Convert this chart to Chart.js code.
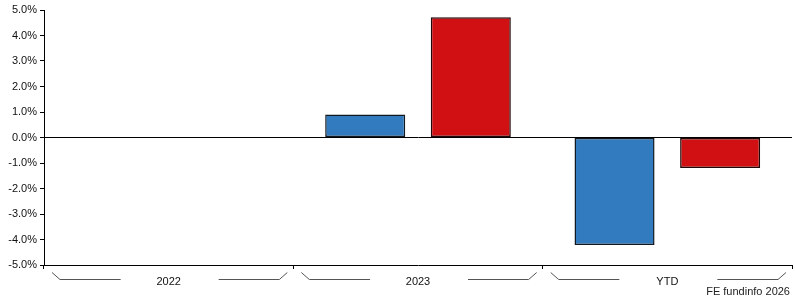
<!DOCTYPE html>
<html>
<head>
<meta charset="utf-8">
<script src="https://cdn.jsdelivr.net/npm/chart.js@4/dist/chart.umd.min.js"></script>
<style>
  html, body { margin: 0; padding: 0; background: #fff; }
  #wrap { position: relative; width: 795px; height: 300px; }
  #credit { position: absolute; right: 5px; bottom: 3px; font: 11px 'Liberation Sans', Arial, sans-serif; color: #222; }
</style>
</head>
<body>
<div id="wrap">
  <canvas id="perfChart" width="795" height="300"></canvas>
  <div id="credit">FE fundinfo 2026</div>
</div>
<script>
// Dữ liệu
const periods = ['2022', '2023', 'YTD'];
const fundValues = [null, 0.9, -4.22];
const sectorValues = [null, 4.72, -1.2];
const yTicks = [-5, -4, -3, -2, -1, 0, 1, 2, 3, 4, 5];

// Vẽ các ngoặc trang trí quanh nhãn trục x
const bracketPlugin = {
    id: 'brackets',
    afterDraw(chart) {
        const x = chart.scales.x;
        const ctx = chart.ctx;
        const w = (x.right - x.left) / periods.length;
        const y0 = x.top + 7, y1 = x.top + 14;
        ctx.save();
        ctx.strokeStyle = '#555';
        ctx.lineWidth = 1;
        periods.forEach((p, i) => {
            const l = x.left + i * w, r = l + w, c = l + w / 2;
            ctx.beginPath();
            ctx.moveTo(l + 8, y0 + 0.5);
            ctx.lineTo(l + 16, y1 + 0.5);
            ctx.lineTo(c - 48, y1 + 0.5);
            ctx.moveTo(c + 50, y1 + 0.5);
            ctx.lineTo(r - 14, y1 + 0.5);
            ctx.lineTo(r - 6, y0 + 0.5);
            ctx.stroke();
        });
        ctx.restore();
    }
};

const tickFont = { family: "'Liberation Sans', Arial, sans-serif", size: 11 };

new Chart(document.getElementById('perfChart').getContext('2d'), {
    type: 'bar',
    data: {
        labels: periods,
        datasets: [
            { label: 'Fund', data: fundValues, backgroundColor: '#337BBF', borderColor: '#101820', borderWidth: 1.5, borderSkipped: false },
            { label: 'Sector', data: sectorValues, backgroundColor: '#D01012', borderColor: '#200808', borderWidth: 1.5, borderSkipped: false }
        ]
    },
    options: {
        responsive: false,
        animation: false,
        categoryPercentage: 0.847,
        barPercentage: 0.758,
        layout: { padding: { top: 10, right: 3 } },
        plugins: { legend: { display: false }, tooltip: { enabled: false } },
        scales: {
            x: {
                offset: true,
                grid: { offset: true, drawOnChartArea: false, tickLength: 4, color: '#000', tickColor: '#000' },
                border: { color: '#000', width: 1 },
                ticks: { color: '#111', font: tickFont, padding: 6, maxRotation: 0 },
                afterFit: s => { s.height = 35; }
            },
            y: {
                min: -5, max: 5,
                afterBuildTicks: s => { s.ticks = yTicks.map(v => ({ value: v })); },
                grid: {
                    color: c => (c.tick && c.tick.value === 0) ? '#000' : 'rgba(0,0,0,0)',
                    tickColor: '#000', tickLength: 4, lineWidth: 1
                },
                border: { color: '#000', width: 1 },
                ticks: { color: '#111', font: tickFont, padding: 3, callback: v => v.toFixed(1) + '%' },
                afterFit: s => { s.width = 44; }
            }
        }
    },
    plugins: [bracketPlugin]
});
</script>
</body>
</html>
